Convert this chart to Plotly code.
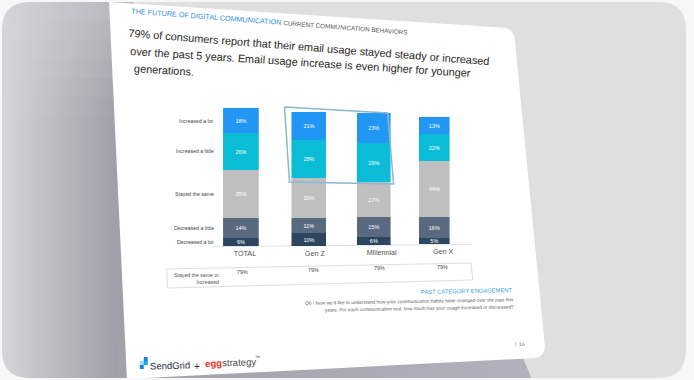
import plotly.graph_objects as go

# ---------------- data ----------------
categories = ["TOTAL", "Gen Z", "Millennial", "Gen X"]
responses = ["Increased a lot", "Increased a little", "Stayed the same",
             "Decreased a little", "Decreased a lot"]
increased_a_lot = [18, 21, 23, 13]
increased_a_little = [26, 28, 29, 22]
stayed_the_same = [35, 30, 27, 44]
decreased_a_little = [14, 11, 15, 16]
decreased_a_lot = [6, 10, 6, 5]
stayed_or_increased = [79, 79, 79, 79]
summary_label = "Stayed the same or<br>Increased"

# ---------------- layout helpers ----------------
W, H = 694, 380
FONT = "Liberation Sans, Arial, sans-serif"


def X(px):
    return px / W


def Y(py):
    return 1 - py / H


def P(*segs):
    out = []
    for s in segs:
        c, nums = s[0], s[1:]
        pts = []
        for i in range(0, len(nums), 2):
            pts.append(f"{X(nums[i]):.5f},{Y(nums[i + 1]):.5f}")
        out.append(c + " ".join(pts))
    return " ".join(out)


def lerp(c1, c2, t):
    t = max(0.0, min(1.0, t))
    return "rgb(%d,%d,%d)" % tuple(round(a + (b - a) * t) for a, b in zip(c1, c2))


shapes = []


def shp(path, fill=None, line_color=None, lw=0, layer="below"):
    d = dict(type="path", xref="paper", yref="paper", path=path, layer=layer,
             line=dict(width=lw, color=line_color or "rgba(0,0,0,0)"))
    if fill:
        d["fillcolor"] = fill
    return d


BG = "#f7f7f7"
r = 28
# frame
shapes.append(shp(P(("M", 2 + r, 2), ("L", 692 - r, 2), ("Q", 692, 2, 692, 2 + r),
                    ("L", 692, 378 - r), ("Q", 692, 378, 692 - r, 378),
                    ("L", 2 + r, 378), ("Q", 2, 378, 2, 378 - r),
                    ("L", 2, 2 + r), ("Q", 2, 2, 2 + r, 2), ("Z",)), fill="#dfdfdf"))
# left gradient
LIGHT, DARK = (214, 214, 217), (161, 159, 170)
for x0 in range(2, 134, 4):
    for y0 in range(2, 378, 19):
        xc, yc = x0 + 2, y0 + 9.5
        tx = max(0, min(1, (xc - 2) / 112))
        ty = max(0, min(1, yc / 120))
        d = tx * (0.5 + 0.5 * ty)
        shapes.append(dict(type="rect", xref="paper", yref="paper", layer="below",
                           x0=X(x0), x1=X(x0 + 4.6), y0=Y(min(y0 + 19.6, 378)), y1=Y(y0),
                           fillcolor=lerp(LIGHT, DARK, d), line=dict(width=0)))
# corner masks
shapes.append(shp(P(("M", 0, 0), ("L", 2 + r, 0), ("L", 2 + r, 2), ("Q", 2, 2, 2, 2 + r),
                    ("L", 0, 2 + r), ("Z",)), fill=BG))
shapes.append(shp(P(("M", 0, 380), ("L", 0, 378 - r), ("L", 2, 378 - r), ("Q", 2, 378, 2 + r, 378),
                    ("L", 2 + r, 380), ("Z",)), fill=BG))
# darker area under slide
for x0 in range(120, 517, 12):
    t = (x0 - 120) / 400
    shapes.append(dict(type="rect", xref="paper", yref="paper", layer="below",
                       x0=X(x0), x1=X(min(x0 + 12.6, 517)), y0=Y(378), y1=Y(340),
                       fillcolor=lerp((163, 161, 172), (178, 176, 188), t), line=dict(width=0)))
shapes.append(shp(P(("M", 516.5, 340), ("L", 520, 340), ("L", 536, 378), ("L", 516.5, 378), ("Z",)),
                  fill="rgb(178,176,188)"))
# slide
shapes.append(shp(P(("M", 110, 2), ("L", 506, 27.5), ("Q", 517, 28.2, 519, 37),
                    ("L", 549.5, 345), ("Q", 550.5, 356, 540, 358),
                    ("L", 128, 379), ("Z",)), fill="#ffffff"))
# summary table box
shapes.append(shp(P(("M", 168, 269), ("L", 475, 263), ("L", 477, 280), ("L", 169, 288), ("Z",)),
                  fill="#ffffff", line_color="#d4d4d4", lw=0.8))
# baseline
shapes.append(shp(P(("M", 215, 246.5), ("L", 476, 244.5)), line_color="#d8d8d8", lw=0.8))
# highlight box
shapes.append(shp(P(("M", 287, 107), ("L", 391, 113), ("L", 397, 184), ("L", 292, 182), ("Z",)),
                  line_color="#8bb8d0", lw=1.5, layer="above"))
# SendGrid icon
for (a, b, c, e, col) in [(141, 361, 145, 365, "#99E1F4"), (145, 357, 149, 361, "#1A82E2"),
                          (145, 361, 149, 365, "#00B3E3"), (141, 365, 145, 369, "#1A82E2")]:
    shapes.append(dict(type="rect", xref="paper", yref="paper", layer="below",
                       x0=X(a), x1=X(c), y0=Y(e), y1=Y(b), fillcolor=col, line=dict(width=0)))

# ---------------- bars ----------------
series = [
    ("Decreased a lot", decreased_a_lot, "#2D4660"),
    ("Decreased a little", decreased_a_little, "#596A80"),
    ("Stayed the same", stayed_the_same, "#BFBFBF"),
    ("Increased a little", increased_a_little, "#0BBCD6"),
    ("Increased a lot", increased_a_lot, "#2196F3"),
]
bar_cx = [243, 311.5, 377, 438]
bar_w = [36, 35, 34, 31]
bar_top = [107, 112, 113, 117]
bar_bot = [246, 246, 245, 244]
label_shift = [4, 6, 8, 9]
summary_y = [277, 275, 273, 272]
summary_dx = [2, 5, 6, 8]

fig = go.Figure()
layout_axes = {}
annotations = []
for i, cat in enumerate(categories):
    xa = "x" if i == 0 else f"x{i + 1}"
    ya = "y" if i == 0 else f"y{i + 1}"
    for name, vals, col in series:
        fig.add_trace(go.Bar(
            x=[cat], y=[vals[i]], name=name, xaxis=xa, yaxis=ya, width=1,
            marker=dict(color=col, line=dict(width=0)),
            text=[f"{vals[i]}%"], textposition="inside", insidetextanchor="middle",
            textangle=0, constraintext="none",
            textfont=dict(size=5.5, color="white", family=FONT),
            showlegend=False, hoverinfo="skip"))
    key = "" if i == 0 else str(i + 1)
    layout_axes["xaxis" + key] = dict(
        domain=[X(bar_cx[i] - bar_w[i] / 2), X(bar_cx[i] + bar_w[i] / 2)], anchor=ya,
        type="category", range=[-0.5, 0.5], showgrid=False, zeroline=False, showline=False,
        ticks="", tickfont=dict(size=7.2, color="#505050", family=FONT),
        ticklabelshift=label_shift[i], ticklabelstandoff=2, fixedrange=True)
    layout_axes["yaxis" + key] = dict(
        domain=[Y(bar_bot[i]), Y(bar_top[i])], anchor=xa, range=[0, 100],
        visible=False, fixedrange=True)
    annotations.append(dict(xref=xa, yref="paper", x=cat, y=Y(summary_y[i]),
                            text=f"{stayed_or_increased[i]}%", showarrow=False,
                            xshift=summary_dx[i],
                            font=dict(size=5.3, color="#444444", family=FONT)))

# response labels next to TOTAL bar
cum = 0
mids = {}
for name, vals, col in series:
    mids[name] = cum + vals[0] / 2
    cum += vals[0]
for name in responses:
    annotations.append(dict(xref="x", yref="y", x=-0.5, y=mids[name], xanchor="right",
                            xshift=-7, text=name, showarrow=False,
                            font=dict(size=5.2, color="#444444", family=FONT)))


def note(x, y, text, size, color="#333333", angle=0, anchor="center", family=FONT, align="center"):
    annotations.append(dict(xref="paper", yref="paper", x=X(x), y=Y(y), text=text,
                            showarrow=False, textangle=angle, xanchor=anchor, yanchor="middle",
                            align=align, font=dict(size=size, color=color, family=family)))


note(271.5, 22,
     "<span style='color:#2f8fd6;font-size:7.2px'>THE FUTURE OF DIGITAL COMMUNICATION</span> "
     "<span style='color:#555555;font-size:6.3px'>CURRENT COMMUNICATION BEHAVIORS</span>",
     7, angle=4.4)
note(312, 47, "79% of consumers report that their email usage stayed steady or increased",
     10.9, color="#262626", angle=4.5)
note(303.5, 62, "over the past 5 years. Email usage increase is even higher for younger",
     10.9, color="#262626", angle=3.7)
note(165, 70.5, "generations.", 10.9, color="#262626", angle=3.5)

note(223, 278, summary_label, 5.2, color="#555555", anchor="right", align="right")

note(519, 291, "PAST CATEGORY ENGAGEMENT", 5.8, color="#3a9ad9", angle=-1.3, anchor="right")
note(521, 301.5,
     "Q6 <span style='color:#3a9ad9'>/</span> Now we'd like to understand how your communication "
     "habits have changed over the past few",
     4.8, color="#555555", angle=-1.0, anchor="right")
note(521, 308.5,
     "years. For each communication tool, how much has your usage increased or decreased?",
     4.8, color="#555555", angle=-1.0, anchor="right")
note(525, 344, "|  16", 5, color="#777777", angle=-1)

note(171, 365, "SendGrid", 9.5, color="#1f3044", angle=-1.5)
note(199, 366, "+", 10, color="#333333")
note(233, 362.5, "<span style='color:#e5332a'><b>egg</b></span>strategy", 9.6,
     color="#4a4a4a", angle=-2)
note(260, 357, "™", 5, color="#4a4a4a")

fig.update_layout(
    width=W, height=H, margin=dict(l=0, r=0, t=0, b=0),
    paper_bgcolor=BG, plot_bgcolor="rgba(0,0,0,0)",
    barmode="stack", bargap=0, showlegend=False,
    shapes=shapes, annotations=annotations, font=dict(family=FONT),
    **layout_axes)

fig.write_html("out.html", config={"displayModeBar": False},
               post_script="document.body.style.margin='0';")
